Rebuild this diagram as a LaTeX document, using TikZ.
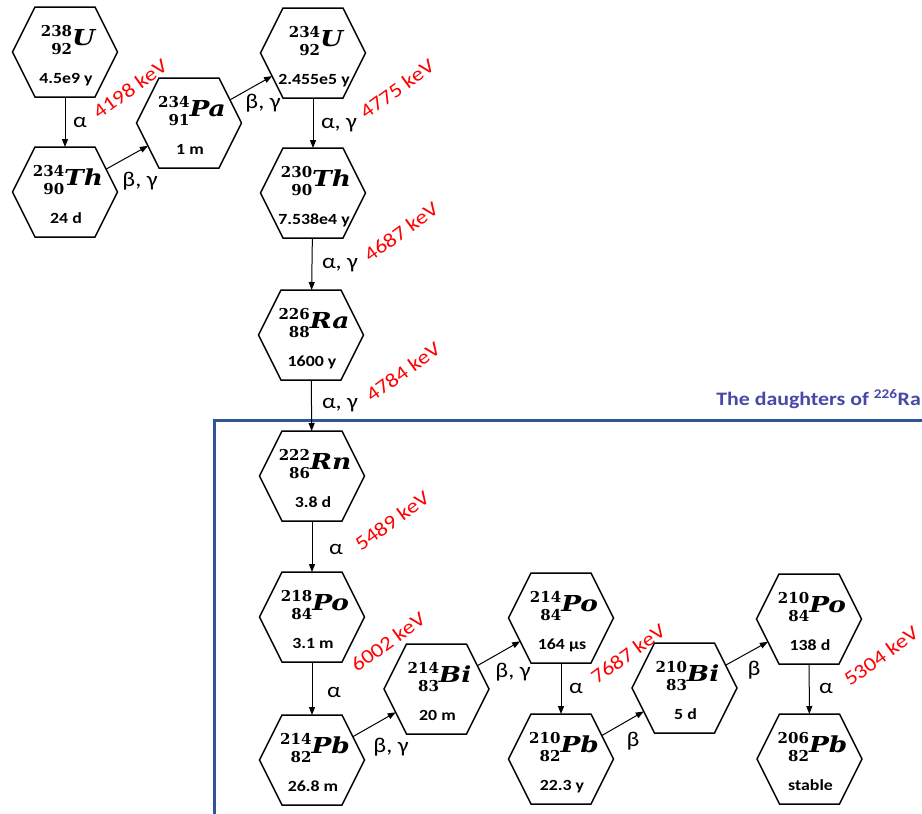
\documentclass[tikz,border=0pt]{standalone}
\usepackage{fontspec}
\usepackage{graphicx}
\usetikzlibrary{arrows.meta}

\newfontfamily\carlito[FakeStretch=1.15]{Carlito}
\newfontfamily\nucfont{DejaVu Serif}
\definecolor{frameblue}{RGB}{47,85,151}
\definecolor{titleblue}{RGB}{72,72,168}
\newcommand\halffont{\carlito\bfseries\fontsize{15.5}{18}\selectfont}
\newcommand\modefont{\carlito\fontsize{21}{24}\selectfont}
\newcommand\kevfont{\carlito\fontsize{20}{24}\selectfont}
\newcommand\titlefont{\carlito\bfseries\fontsize{19}{22}\selectfont}

% nuclide symbol: mass number over atomic number, right aligned, then the element
\newsavebox\massbox
\newcommand\nuc[3]{{\nucfont\bfseries\fontsize{15}{17}\selectfont
  \sbox\massbox{#1}\rlap{\raisebox{9.4pt}{\usebox\massbox}}%
  \makebox[\wd\massbox][r]{\raisebox{-8.3pt}{#2}}%
  \scalebox{1.2}[1]{\fontsize{22}{22}\selectfont\itshape #3}}}
% contents of one hexagon: nuclide above, half-life below
\newcommand\hexlbl[4]{\makebox[0pt]{\hspace{6pt}\raisebox{6.3pt}{\nuc{#1}{#2}{#3}}}\makebox[0pt]{\hspace{2pt}\raisebox{-31pt}{\halffont #4}}}

% hexagon with pointed left and right ends, slanted run = quarter of the height
\makeatletter
\pgfdeclareshape{hexa}{
  \inheritsavedanchors[from=rectangle]
  \inheritanchor[from=rectangle]{center}
  \inheritanchor[from=rectangle]{north}
  \inheritanchor[from=rectangle]{south}
  \inheritanchor[from=rectangle]{east}
  \inheritanchor[from=rectangle]{west}
  \inheritanchor[from=rectangle]{text}
  \inheritanchor[from=rectangle]{base}
  \inheritanchor[from=rectangle]{mid}
  \backgroundpath{%
    \southwest \edef\hx@l{\the\pgf@x}\edef\hx@b{\the\pgf@y}%
    \northeast \edef\hx@r{\the\pgf@x}\edef\hx@t{\the\pgf@y}%
    \pgfmathsetmacro\hx@my{(\hx@b+\hx@t)/2}%
    \pgfmathsetmacro\hx@d{(\hx@t-\hx@b)/4}%
    \pgfmathsetmacro\hx@li{\hx@l+\hx@d}%
    \pgfmathsetmacro\hx@ri{\hx@r-\hx@d}%
    \pgfpathmoveto{\pgfpoint{\hx@l}{\hx@my pt}}%
    \pgfpathlineto{\pgfpoint{\hx@li pt}{\hx@t}}%
    \pgfpathlineto{\pgfpoint{\hx@ri pt}{\hx@t}}%
    \pgfpathlineto{\pgfpoint{\hx@r}{\hx@my pt}}%
    \pgfpathlineto{\pgfpoint{\hx@ri pt}{\hx@b}}%
    \pgfpathlineto{\pgfpoint{\hx@li pt}{\hx@b}}%
    \pgfpathclose
  }
  \anchorborder{%
    \edef\hx@dx{\the\pgf@x}\edef\hx@dy{\the\pgf@y}%
    \southwest \edef\hx@l{\the\pgf@x}\edef\hx@b{\the\pgf@y}%
    \northeast \edef\hx@r{\the\pgf@x}\edef\hx@t{\the\pgf@y}%
    \pgfmathsetmacro\hx@cx{(\hx@l+\hx@r)/2}%
    \pgfmathsetmacro\hx@cy{(\hx@b+\hx@t)/2}%
    \pgfmathsetmacro\hx@W{(\hx@r-\hx@l)/2}%
    \pgfmathsetmacro\hx@H{(\hx@t-\hx@b)/2}%
    \pgfmathsetmacro\hx@ux{abs(\hx@dx)}%
    \pgfmathsetmacro\hx@uy{abs(\hx@dy)}%
    \pgfmathsetmacro\hx@k{min(\hx@H/max(\hx@uy,0.01),\hx@W/max(\hx@ux+0.5*\hx@uy,0.01))}%
    \pgfmathsetmacro\hx@px{\hx@cx+\hx@k*(\hx@dx)}%
    \pgfmathsetmacro\hx@py{\hx@cy+\hx@k*(\hx@dy)}%
    \pgf@x=\hx@px pt\relax
    \pgf@y=\hx@py pt\relax
  }
}
\makeatother

\tikzset{
  hex/.style={shape=hexa, draw, fill=white, line width=1.5pt, minimum width=105pt,
    minimum height=90pt, inner sep=0pt, outer sep=0pt, text height=0pt, text depth=0pt},
  decay/.style={-{Triangle[length=8pt,width=6pt]}, line width=1pt},
  kev/.style={text=red, font=\kevfont, rotate=36, inner sep=0pt},
  mode/.style={font=\modefont, inner sep=0pt},
  frame/.style={draw=frameblue, line width=3pt},
}

\begin{document}
\begin{tikzpicture}[x=1pt, y=-1pt]
\path[use as bounding box, fill=white] (0,0) rectangle (922,814);

% box around the daughters of Ra-226
\coordinate (fb) at (214,816);
\coordinate (fc) at (214,420.5);
\coordinate (fr) at (924,420.5);
\draw[frame] (fb) -- (fc) -- (fr);
\node[anchor=base east, text=titleblue, font=\titlefont, inner sep=0pt] (title) at (921,405)
  {The daughters of \textsuperscript{226}Ra};

% nuclides
\node[hex] (u238)  at (65,52)    {\hexlbl{238}{92}{U}{4.5e9 y}};
\node[hex] (th234) at (65,192)   {\hexlbl{234}{90}{Th}{24 d}};
\node[hex] (pa234) at (189,123)  {\hexlbl{234}{91}{Pa}{1 m}};
\node[hex] (u234)  at (313,53)   {\hexlbl{234}{92}{U}{2.455e5 y}};
\node[hex] (th230) at (313,193)  {\hexlbl{230}{90}{Th}{7.538e4 y}};
\node[hex] (ra226) at (311,335)  {\hexlbl{226}{88}{Ra}{1600 y}};
\node[hex] (rn222) at (312,476)  {\hexlbl{222}{86}{Rn}{3.8 d}};
\node[hex] (po218) at (312,617)  {\hexlbl{218}{84}{Po}{3.1 m}};
\node[hex] (pb214) at (312,760)  {\hexlbl{214}{82}{Pb}{26.8 m}};
\node[hex] (bi214) at (436.5,689){\hexlbl{214}{83}{Bi}{20 m}};
\node[hex] (po214) at (561,618)  {\hexlbl{214}{84}{Po}{164 μs}};
\node[hex] (pb210) at (561,759)  {\hexlbl{210}{82}{Pb}{22.3 y}};
\node[hex] (bi210) at (684.5,688){\hexlbl{210}{83}{Bi}{5 d}};
\node[hex] (po210) at (809,619)  {\hexlbl{210}{84}{Po}{138 d}};
\node[hex] (pb206) at (809.5,759){\hexlbl{206}{82}{Pb}{stable}};

% decays
\draw[decay] (u238)  -- (th234);
\draw[decay] (th234) -- (pa234);
\draw[decay] (pa234) -- (u234);
\draw[decay] (u234)  -- (th230);
\draw[decay] (th230) -- (ra226);
\draw[decay] (ra226) -- (rn222);
\draw[decay] (rn222) -- (po218);
\draw[decay] (po218) -- (pb214);
\draw[decay] (pb214) -- (bi214);
\draw[decay] (bi214) -- (po214);
\draw[decay] (po214) -- (pb210);
\draw[decay] (pb210) -- (bi210);
\draw[decay] (bi210) -- (po210);
\draw[decay] (po210) -- (pb206);

% decay modes
\node[mode] (m1)  at (80,122)  {α};
\node[mode] (m2)  at (140,181) {β, γ};
\node[mode] (m3)  at (263,103) {β, γ};
\node[mode] (m4)  at (339,125) {α, γ};
\node[mode] (m5)  at (340,265) {α, γ};
\node[mode] (m6)  at (340,405) {α, γ};
\node[mode] (m7)  at (336,549) {α};
\node[mode] (m8)  at (334,692) {α};
\node[mode] (m9)  at (391,747) {β, γ};
\node[mode] (m10) at (513,672) {β, γ};
\node[mode] (m11) at (576,688) {α};
\node[mode] (m12) at (633,741) {β};
\node[mode] (m13) at (754,670) {β};
\node[mode] (m14) at (826,688) {α};

% alpha energies
\node[kev] (e1) at (130,89)  {4198 keV};
\node[kev] (e2) at (397,89)  {4775 keV};
\node[kev] (e3) at (401,232) {4687 keV};
\node[kev] (e4) at (403,372) {4784 keV};
\node[kev] (e5) at (392,521) {5489 keV};
\node[kev] (e6) at (388,642) {6002 keV};
\node[kev] (e7) at (628,654) {7687 keV};
\node[kev] (e8) at (881,656) {5304 keV};
\end{tikzpicture}
\end{document}
